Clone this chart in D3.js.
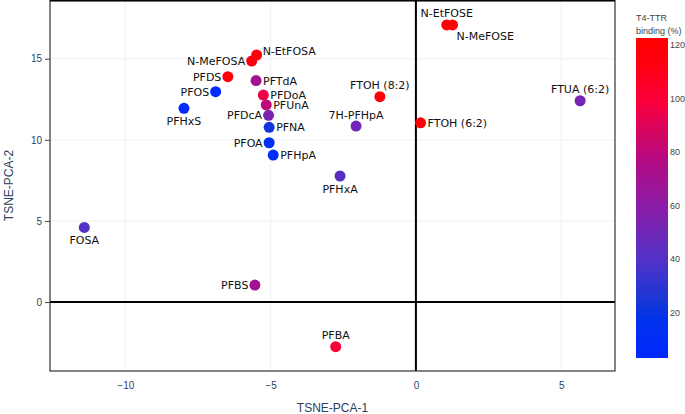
<!DOCTYPE html>
<html>
<head>
<meta charset="utf-8">
<script src="https://cdn.jsdelivr.net/npm/d3@7/dist/d3.min.js"></script>
<style>
  html, body { margin: 0; padding: 0; background: #fff; }
  svg { display: block; }
</style>
</head>
<body>
<svg id="chart" width="685" height="414"></svg>
<script>
// ---- data ----
const compounds = ["N-EtFOSE","N-MeFOSE","FTOH (8:2)","7H-PFHpA","FTOH (6:2)","FTUA (6:2)",
  "N-EtFOSA","N-MeFOSA","PFDS","PFTdA","PFOS","PFDoA","PFUnA","PFHxS","PFDcA","PFNA",
  "PFOA","PFHpA","PFHxA","FOSA","PFBS","PFBA"];
const tsne1 = [1.06, 1.26, -1.24, -2.06, 0.16, 5.65,
  -5.48, -5.65, -6.47, -5.50, -6.89, -5.25, -5.15, -7.98, -5.07, -5.05,
  -5.05, -4.91, -2.61, -11.41, -5.54, -2.76];
const tsne2 = [17.08, 17.08, 12.66, 10.85, 11.05, 12.41,
  15.23, 14.86, 13.89, 13.65, 12.97, 12.76, 12.15, 11.94, 11.51, 10.77,
  9.82, 9.06, 7.77, 4.60, 1.05, -2.75];
const binding = [120, 120, 117, 50, 120, 52,
  115, 113, 118, 70, 8, 95, 80, 8, 55, 22,
  12, 12, 42, 40, 70, 100];
const labelPosition = ["tc","br","tc","tc","mr","tc",
  "tr","ml","ml","mr","ml","mr","mr","bc","ml","mr",
  "ml","mr","bc","bc","ml","tc"];
const xTicks = [-10, -5, 0, 5];
const yTicks = [0, 5, 10, 15];
const cbTicks = [20, 40, 60, 80, 100, 120];
const cbRange = [3, 122.5];
const colorStops = [
  [0.00, "rgb(0,40,255)"],
  [0.12, "rgb(0,50,235)"],
  [0.17, "rgb(20,55,215)"],
  [0.30, "rgb(80,50,200)"],
  [0.46, "rgb(135,30,170)"],
  [0.62, "rgb(180,10,130)"],
  [0.80, "rgb(250,0,60)"],
  [0.92, "rgb(255,0,15)"],
  [1.00, "rgb(255,0,0)"]
];

// ---- layout ----
const svg = d3.select("#chart");
const L = 50, R = 615, T = 0, B = 371;
const x = d3.scaleLinear().domain([-12.59, 6.85]).range([L, R]);
const y = d3.scaleLinear().domain([-4.25, 18.62]).range([B, T]);
const cScale = d3.scaleLinear()
  .domain(colorStops.map(s => cbRange[0] + s[0] * (cbRange[1] - cbRange[0])))
  .range(colorStops.map(s => s[1]))
  .interpolate(d3.interpolateRgb)
  .clamp(true);

const tickFont = "'Liberation Sans', Arial, sans-serif";
const tickColor = "#2a3f5f";

// gridlines
const g = svg.append("g");
g.selectAll("line.gx").data(xTicks.filter(t => t !== 0)).enter().append("line")
  .attr("x1", d => x(d)).attr("x2", d => x(d)).attr("y1", T).attr("y2", B)
  .attr("stroke", "#EBF0F8").attr("stroke-width", 1);
g.selectAll("line.gy").data(yTicks.filter(t => t !== 0)).enter().append("line")
  .attr("y1", d => y(d)).attr("y2", d => y(d)).attr("x1", L).attr("x2", R)
  .attr("stroke", "#EBF0F8").attr("stroke-width", 1);

// zero lines
g.append("line").attr("x1", x(0)).attr("x2", x(0)).attr("y1", T).attr("y2", B)
  .attr("stroke", "#000").attr("stroke-width", 2);
g.append("line").attr("y1", y(0)).attr("y2", y(0)).attr("x1", L).attr("x2", R)
  .attr("stroke", "#000").attr("stroke-width", 2);

// frame
g.append("rect").attr("x", L).attr("y", T + 0.5).attr("width", R - L).attr("height", B - T - 0.5)
  .attr("fill", "none").attr("stroke", "#333").attr("stroke-width", 1.2);
g.append("line").attr("x1", L).attr("x2", R).attr("y1", 0.5).attr("y2", 0.5)
  .attr("stroke", "#000").attr("stroke-width", 2);

// axes
const xAxis = svg.append("g").attr("transform", `translate(0,${B})`)
  .call(d3.axisBottom(x).tickValues(xTicks).tickSize(0).tickPadding(11)
    .tickFormat(d => d < 0 ? "\u2212" + Math.abs(d) : d));
xAxis.select(".domain").remove();
xAxis.selectAll("text").attr("fill", tickColor).style("font-family", tickFont).style("font-size", "10px");

const yAxis = svg.append("g").attr("transform", `translate(${L},0)`)
  .call(d3.axisLeft(y).tickValues(yTicks).tickSize(5).tickPadding(3));
yAxis.select(".domain").remove();
yAxis.selectAll("line").attr("stroke", "#444");
yAxis.selectAll("text").attr("fill", tickColor).style("font-family", tickFont).style("font-size", "10px");

// axis titles
svg.append("text").attr("x", (L + R) / 2).attr("y", 412).attr("text-anchor", "middle")
  .attr("fill", tickColor).style("font-family", tickFont).style("font-size", "12px").text("TSNE-PCA-1");
svg.append("text").attr("transform", `translate(13,${(T + B) / 2}) rotate(-90)`).attr("text-anchor", "middle")
  .attr("fill", tickColor).style("font-family", tickFont).style("font-size", "12px").text("TSNE-PCA-2");

// points
const pts = compounds.map((c, i) => ({ name: c, x: tsne1[i], y: tsne2[i], b: binding[i], pos: labelPosition[i] }));
const r = 5.5;
svg.append("g").selectAll("circle").data(pts).enter().append("circle")
  .attr("cx", d => x(d.x)).attr("cy", d => y(d.y)).attr("r", r)
  .attr("fill", d => cScale(d.b));

// labels
const lab = svg.append("g").style("font-family", "'DejaVu Sans', sans-serif").style("font-size", "11px").attr("fill", "#111");
pts.forEach(d => {
  const cx = x(d.x), cy = y(d.y);
  let tx = cx, ty = cy, anchor = "middle";
  switch (d.pos) {
    case "tc": ty = cy - r - 2; break;
    case "bc": ty = cy + r + 11.5; break;
    case "mr": tx = cx + r + 1.5; ty = cy + 4; anchor = "start"; break;
    case "ml": tx = cx - r - 1; ty = cy + 4; anchor = "end"; break;
    case "tr": tx = cx + r + 0.5; ty = cy; anchor = "start"; break;
    case "br": tx = cx + 4; ty = cy + r + 9.5; anchor = "start"; break;
  }
  lab.append("text").attr("x", tx).attr("y", ty).attr("text-anchor", anchor).text(d.name);
});

// colorbar
const cbX = 636, cbW = 32, cbTop = 38, cbBot = 358;
const cbY = d3.scaleLinear().domain(cbRange).range([cbBot, cbTop]);
const defs = svg.append("defs");
const grad = defs.append("linearGradient").attr("id", "cbgrad")
  .attr("x1", 0).attr("y1", 1).attr("x2", 0).attr("y2", 0);
colorStops.forEach(s => grad.append("stop").attr("offset", s[0]).attr("stop-color", s[1]));
svg.append("rect").attr("x", cbX).attr("y", cbTop).attr("width", cbW).attr("height", cbBot - cbTop)
  .attr("fill", "url(#cbgrad)");
const cbAxis = svg.append("g").attr("transform", `translate(${cbX + cbW},0)`)
  .call(d3.axisRight(cbY).tickValues(cbTicks).tickSize(0).tickPadding(2));
cbAxis.select(".domain").remove();
cbAxis.selectAll("text").attr("fill", "#444").style("font-family", tickFont).style("font-size", "9px");
svg.append("text").attr("x", cbX).attr("y", 21).attr("fill", "#444")
  .style("font-family", tickFont).style("font-size", "9px").text("T4-TTR");
svg.append("text").attr("x", cbX).attr("y", 34).attr("fill", "#444")
  .style("font-family", tickFont).style("font-size", "9px").text("binding (%)");
</script>
</body>
</html>
